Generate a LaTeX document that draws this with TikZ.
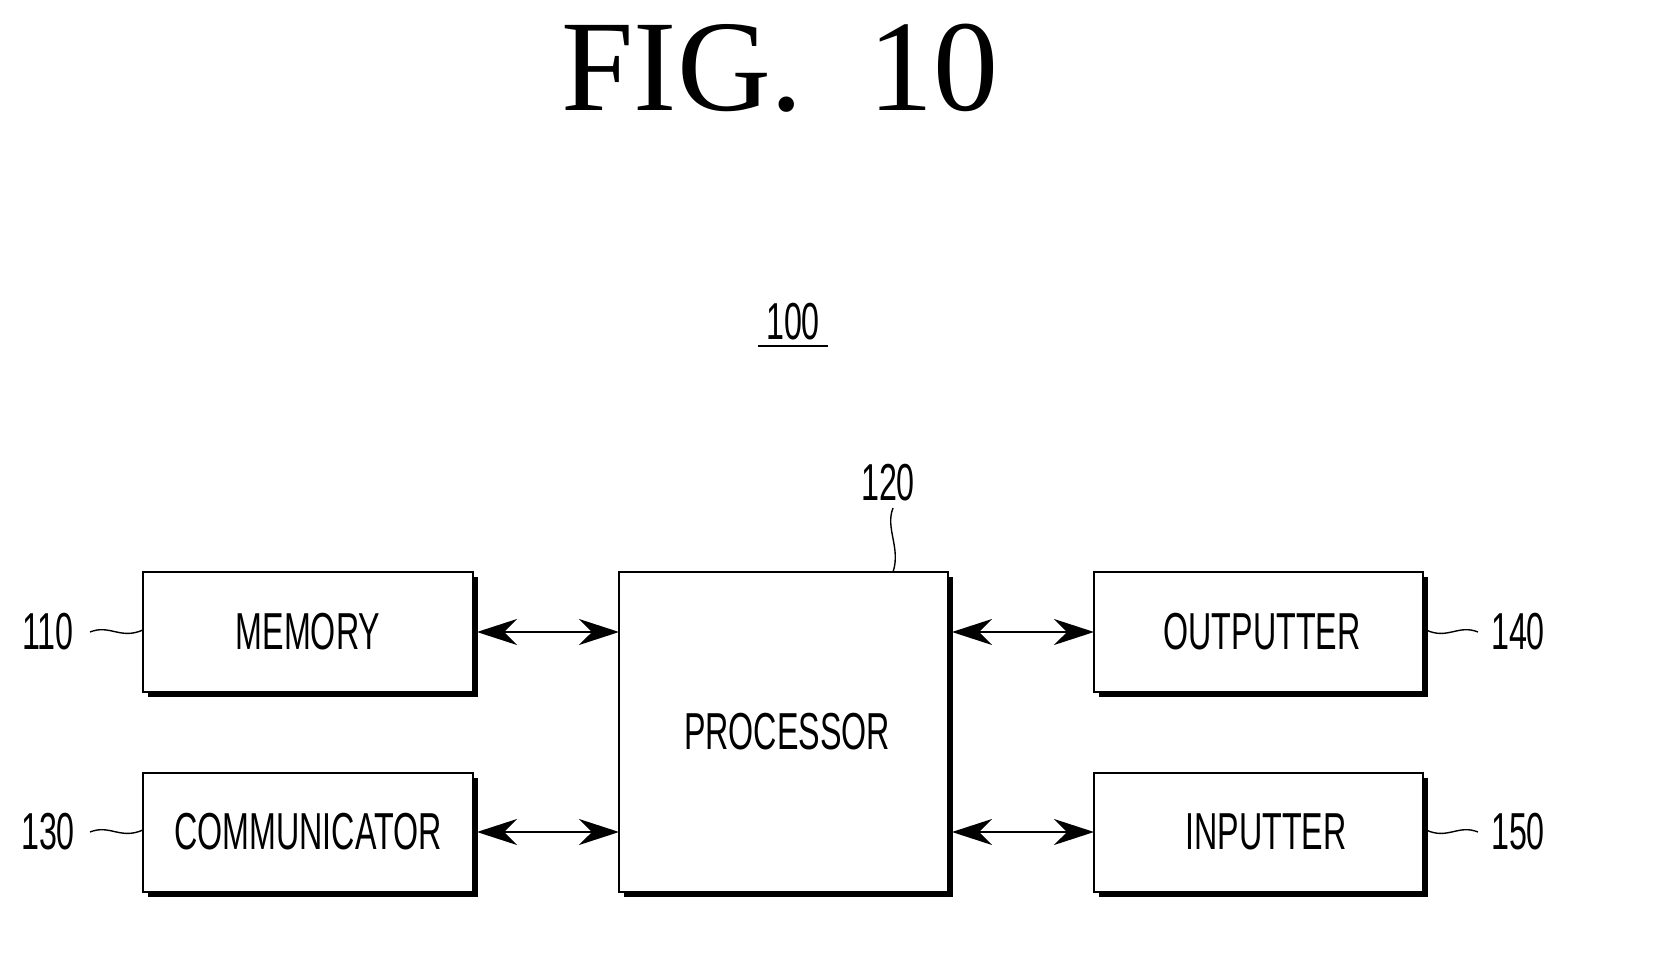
\documentclass[tikz,border=0pt]{standalone}
\usepackage{fontspec}
\setmainfont{Liberation Serif}
\newfontfamily\lab{Liberation Sans}
\usetikzlibrary{arrows.meta}
\begin{document}
\begin{tikzpicture}[x=1pt,y=-1pt,
  blk/.style={draw,line width=2.4pt,fill=white},
  txt/.style={font=\lab\fontsize{52}{52}\selectfont,xscale=0.62},
  arr/.style={line width=2pt,{Stealth[length=40pt,width=26pt]}-{Stealth[length=40pt,width=26pt]}},
  sq/.style={line width=1.4pt}]
\useasboundingbox (0,0) rectangle (1657,969);
\node[font=\fontsize{130}{130}\selectfont] (title) at (780,68) {FIG.\ \ 10};
\node[txt] (n100) at (793,322) {100};
\draw[line width=2pt] (758,346) -- (828,346);
\foreach \n/\xa/\ya/\xb/\yb in {mem/143/572/473/692,com/143/773/473/892,pro/619/572/948/892,out/1094/572/1423/692,inp/1094/773/1423/892}{
  \fill (\xa+5,\ya+5) rectangle (\xb+5,\yb+5);
  \draw[blk] (\xa,\ya) rectangle (\xb,\yb);
  \coordinate (\n) at ({(\xa+\xb)/2},{(\ya+\yb)/2});
}
\node[txt] (tmem) at (308,632) {MEMORY};
\node[txt] (tcom) at (308,832) {COMMUNICATOR};
\node[txt] (tpro) at (787,732) {PROCESSOR};
\node[txt] (tout) at (1262,632) {OUTPUTTER};
\node[txt] (tinp) at (1266,832) {INPUTTER};
\coordinate (a1) at (477,632); \coordinate (b1) at (619,632);
\coordinate (a2) at (477,832); \coordinate (b2) at (619,832);
\coordinate (a3) at (952,632); \coordinate (b3) at (1094,632);
\coordinate (a4) at (952,832); \coordinate (b4) at (1094,832);
\draw[arr] (a1) -- (b1);
\draw[arr] (a2) -- (b2);
\draw[arr] (a3) -- (b3);
\draw[arr] (a4) -- (b4);
\node[txt] (l110) at (48,632) {110};
\node[txt] (l130) at (48,832) {130};
\node[txt] (l140) at (1518,632) {140};
\node[txt] (l150) at (1518,832) {150};
\node[txt] (l120) at (888,483) {120};
\draw[sq] (90,632) .. controls (110,624) and (120,640) .. (143,630);
\draw[sq] (90,832) .. controls (110,824) and (120,840) .. (143,830);
\draw[sq] (1426,630) .. controls (1448,640) and (1458,624) .. (1478,632);
\draw[sq] (1426,830) .. controls (1448,840) and (1458,824) .. (1478,832);
\draw[sq] (893,508) .. controls (885,528) and (901,548) .. (893,572);
\end{tikzpicture}
\end{document}
